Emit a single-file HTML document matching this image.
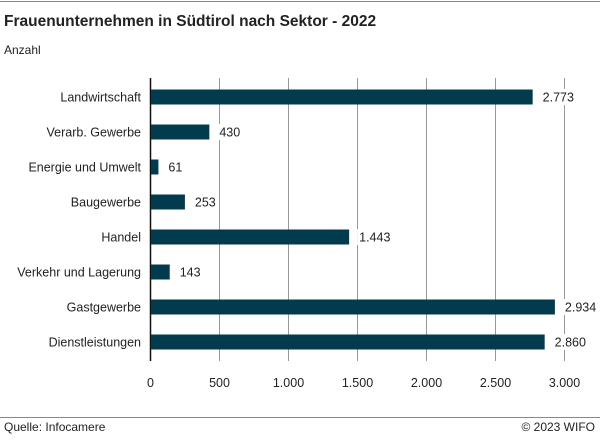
<!DOCTYPE html>
<html><head><meta charset="utf-8"><style>
body{margin:0;background:#fff;font-family:"Liberation Sans",sans-serif}
svg text{font-family:"Liberation Sans",sans-serif}
</style></head><body>
<svg width="600" height="443" viewBox="0 0 600 443">
<rect width="600" height="443" fill="#fff"/>
<line x1="0" y1="1.5" x2="600" y2="1.5" stroke="#888"/>
<text x="4" y="26" font-size="15.5" font-weight="bold" fill="#222">Frauenunternehmen in Südtirol nach Sektor - 2022</text>
<text x="4" y="54" font-size="12" fill="#222">Anzahl</text>
<g id="grid"></g>
<g id="bars"></g>
<line x1="0" y1="417.5" x2="600" y2="417.5" stroke="#888"/>
<text x="4" y="431" font-size="12" fill="#222">Quelle: Infocamere</text>
<text x="595" y="431" font-size="12" fill="#222" text-anchor="end">© 2023 WIFO</text>
</svg>
<script>
const categories=["Landwirtschaft","Verarb. Gewerbe","Energie und Umwelt","Baugewerbe","Handel","Verkehr und Lagerung","Gastgewerbe","Dienstleistungen"];
const values=[2773,430,61,253,1443,143,2934,2860];
const valueLabels=["2.773","430","61","253","1.443","143","2.934","2.860"];
const ticks=[0,500,1000,1500,2000,2500,3000];
const tickLabels=["0","500","1.000","1.500","2.000","2.500","3.000"];
const NS="http://www.w3.org/2000/svg";
const x0=150,x1=564,max=3000;
const xs=v=>x0+(x1-x0)*v/max;
const yTop=79,step=35,bh=15;
const yc=i=>yTop+step*(i+0.5)+0.5;
function mk(t,a,p){const e=document.createElementNS(NS,t);for(const k in a)e.setAttribute(k,a[k]);p.appendChild(e);return e;}
const g=document.getElementById('grid'),b=document.getElementById('bars');
ticks.forEach((t,i)=>{
 const l=mk('line',{x1:xs(t)+0.5,x2:xs(t)+0.5,y1:78,y2:361,stroke:i==0?'#111':'#999','stroke-width':i==0?1.5:1},g);
 
 
 const tx=mk('text',{x:xs(t)+0.5,y:387,'font-size':12.5,'text-anchor':'middle',fill:'#222'},g);
 tx.textContent=tickLabels[i];
 
 
});
categories.forEach((c,i)=>{
 const y=yc(i);
 const lb=mk('text',{x:141,y:y+4.5,'font-size':12.5,'text-anchor':'end',fill:'#222'},b);
 lb.textContent=c;
 
 
 const r=mk('rect',{x:x0+1,y:y-bh/2,width:xs(values[i])-x0-1,height:bh,fill:'#033b4e'},b);
 
 
 const w=valueLabels[i].length*7+4;
 mk('rect',{x:xs(values[i])+8,y:y-8,width:w,height:16,fill:'#fff'},b);
 const vl=mk('text',{x:xs(values[i])+10,y:y+4.5,'font-size':12.5,fill:'#222'},b);
 vl.textContent=valueLabels[i];
 
 
});
</script>
</body></html>
